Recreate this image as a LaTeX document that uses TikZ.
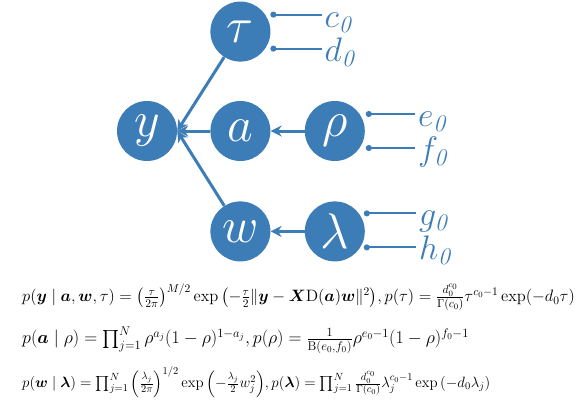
\RequirePackage{fix-cm}
\documentclass[tikz,border=0pt]{standalone}
\usepackage{amsmath,amssymb,bm}
\usepackage{tikz}
\usetikzlibrary{arrows.meta,positioning}
\definecolor{nodeblue}{RGB}{61,125,183}

\begin{document}
\begin{tikzpicture}[
  x=1pt, y=-1pt,
  var/.style={circle, fill=nodeblue, text=white, minimum size=60pt, inner sep=0pt,
    font=\fontsize{50}{50}\selectfont},
  arr/.style={-{Stealth[length=11pt,width=11pt]}, line width=3pt, draw=nodeblue},
  hyp/.style={{Circle[length=6pt]}-, line width=2pt, draw=nodeblue},
  lab/.style={anchor=base west, inner sep=1pt, text=nodeblue,
    font=\fontsize{34}{34}\selectfont},
  eqn/.style={anchor=west, inner sep=0pt}
]
  \useasboundingbox (0,0) rectangle (581,415);
  % variables
  \node[var] (y) at (147,131) {$y$};
  \node[var, right=33pt of y] (a) {$a$};
  \node[var, right=34pt of a] (rho) {$\rho$};
  \node[var, above=39pt of a] (tau) {$\tau$};
  \node[var, below=40pt of a] (w) {$w$};
  \node[var, right=34pt of w] (lam) {$\lambda$};
  \draw[arr] (tau) -- (y.east);
  \draw[arr] (a) -- (y.east);
  \draw[arr] (w) -- (y.east);
  \draw[arr] (rho) -- (a);
  \draw[arr] (lam) -- (w);
  % hyperparameters
  \coordinate (tau-c) at ([shift={(30,-17)}]tau.center);
  \coordinate (tau-d) at ([shift={(30,17)}]tau.center);
  \coordinate (rho-e) at ([shift={(31,-17)}]rho.center);
  \coordinate (rho-f) at ([shift={(31,17)}]rho.center);
  \coordinate (lam-g) at ([shift={(29,-18)}]lam.center);
  \coordinate (lam-h) at ([shift={(29,16)}]lam.center);
  \draw[hyp] (tau-c) -- ++(52,0) coordinate (c0);
  \draw[hyp] (tau-d) -- ++(52,0) coordinate (d0);
  \draw[hyp] (rho-e) -- ++(49,0) coordinate (e0);
  \draw[hyp] (rho-f) -- ++(49,0) coordinate (f0);
  \draw[hyp] (lam-g) -- ++(52,0) coordinate (g0);
  \draw[hyp] (lam-h) -- ++(52,0) coordinate (h0);
  \node[lab] (c0-lab) at ([shift={(1,13)}]c0) {$c_{\mathit{0}}$};
  \node[lab] (d0-lab) at ([shift={(1,13)}]d0) {$d_{\mathit{0}}$};
  \node[lab] (e0-lab) at ([shift={(2,12)}]e0) {$e_{\mathit{0}}$};
  \node[lab] (f0-lab) at ([shift={(2,12)}]f0) {$f_{\mathit{0}}$};
  \node[lab] (g0-lab) at ([shift={(2,12)}]g0) {$g_{\mathit{0}}$};
  \node[lab] (h0-lab) at ([shift={(2,12)}]h0) {$h_{\mathit{0}}$};
  % model equations
  \node[eqn, font=\fontsize{16.5}{18}\selectfont] (eq-y) at (22,297) {$p(\bm{y}\mid\bm{a},\bm{w},\tau)=\left(\frac{\tau}{2\pi}\right)^{M/2}\exp\left(-\frac{\tau}{2}\|\bm{y}-\bm{X}\mathrm{D}(\bm{a})\bm{w}\|^2\right)\!,p(\tau)=\frac{d_0^{c_0}}{\Gamma(c_0)}\tau^{c_0-1}\exp(-d_0\tau)$};
  \node[eqn, font=\fontsize{18}{20}\selectfont] (eq-a) at (22,340) {$p(\bm{a}\mid\rho)=\prod_{j=1}^N\rho^{a_j}(1-\rho)^{1-a_j},p(\rho)=\frac{1}{\mathrm{B}(e_0,f_0)}\rho^{e_0-1}(1-\rho)^{f_0-1}$};
  \node[eqn, font=\fontsize{14.9}{16}\selectfont] (eq-w) at (22,382) {$p(\bm{w}\mid\bm{\lambda})=\prod_{j=1}^N\left(\frac{\lambda_j}{2\pi}\right)^{1/2}\exp\left(-\frac{\lambda_j}{2}w_j^2\right)\!,p(\bm{\lambda})=\prod_{j=1}^N\frac{d_0^{c_0}}{\Gamma(c_0)}\lambda_j^{c_0-1}\exp\left(-d_0\lambda_j\right)$};
\end{tikzpicture}
\end{document}
